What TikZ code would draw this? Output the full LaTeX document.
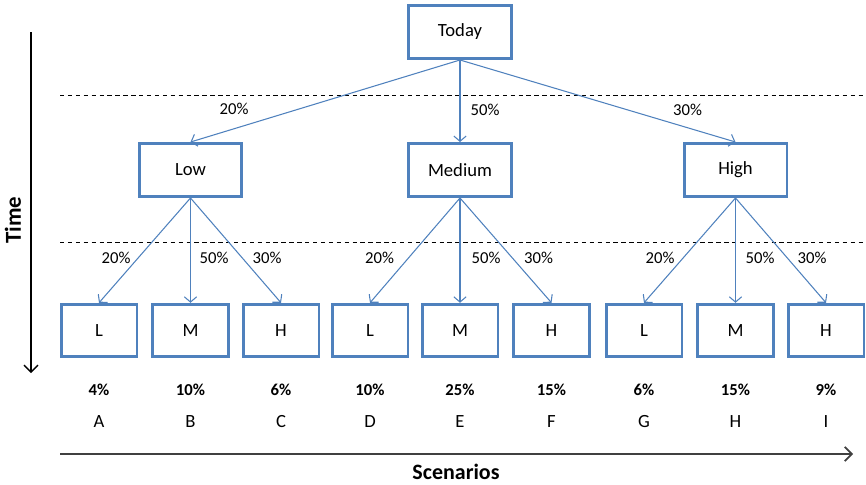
\documentclass[tikz,border=0pt]{standalone}
\usepackage{fontspec}
\setmainfont{Carlito}
\usetikzlibrary{arrows.meta}
\definecolor{boxblue}{RGB}{79,129,189}
\definecolor{axisgray}{RGB}{64,64,64}
\begin{document}
\begin{tikzpicture}[x=0.02cm,y=-0.02cm,
		box/.style={draw=boxblue,line width=1.7pt,fill=white,minimum width=2.06cm,minimum height=1.06cm,inner sep=0pt,font=\fontsize{10.6}{12}\selectfont},
		leaf/.style={box,minimum width=1.52cm,minimum height=1.05cm},
		branch/.style={draw=boxblue,line width=0.6pt,-{Straight Barb[length=3pt,width=7pt]}},
		prob/.style={font=\fontsize{9.5}{11}\selectfont},
		share/.style={font=\fontsize{9.5}{11}\selectfont\bfseries},
		scen/.style={font=\fontsize{10.6}{12}\selectfont}]
	\useasboundingbox (0,0) rectangle (866,484);

	% Draw time levels
	\draw[dash pattern=on 2.5pt off 2pt,line width=0.5pt] (60,95) -- (866,95);
	\draw[dash pattern=on 2.5pt off 2pt,line width=0.5pt] (60,242) -- (866,242);

	% Draw axes
	\draw[line width=0.75pt,-{Straight Barb[length=4pt,width=8pt]}] (31,32) -- (31,373);
	\node[rotate=90,font=\fontsize{13}{15}\selectfont\bfseries] (time) at (13,220) {Time};
	\draw[axisgray,line width=1pt,-{Straight Barb[length=4pt,width=8pt]}] (60,454) -- (853,454);
	\node[font=\fontsize{12.5}{15}\selectfont\bfseries] (scenarios) at (456,472) {Scenarios};

	% Draw tree
	\node[box] (today) at (460,32) {Today};
	\node[box] (low) at (190.5,170) {Low};
	\node[box] (medium) at (460,170) {Medium};
	\node[box] (high) at (735.5,170) {High};

	% Add scenarios
	\foreach \x/\n/\t/\p/\s in {99/ll/L/4/A, 190.5/lm/M/10/B, 281/lh/H/6/C,
			370/ml/L/10/D, 460/mm/M/25/E, 551.5/mh/H/15/F,
			644/hl/L/6/G, 735.5/hm/M/15/H, 826/hh/H/9/I} {
		\node[leaf] (\n) at (\x,330.5) {\t};
		\node[share] (\n-p) at (\x,390) {\p\%};
		\node[scen] (\n-s) at (\x,422) {\s};
	}

	% Draw branches
	\foreach \a/\b in {today/low, today/medium, today/high,
			low/ll, low/lm, low/lh, medium/ml, medium/mm, medium/mh,
			high/hl, high/hm, high/hh}
		\draw[branch] (\a.south) -- (\b.north);

	% Add branch probabilities
	\foreach \x/\y/\p [count=\i] in {234/109/20, 485/110/50, 687.5/110/30,
			116/258/20, 214/258/50, 267/258/30,
			379.5/258/20, 486/258/50, 538.5/258/30,
			660/258/20, 760/258/50, 812/258/30}
		\node[prob] (p\i) at (\x,\y) {\p\%};
\end{tikzpicture}
\end{document}
